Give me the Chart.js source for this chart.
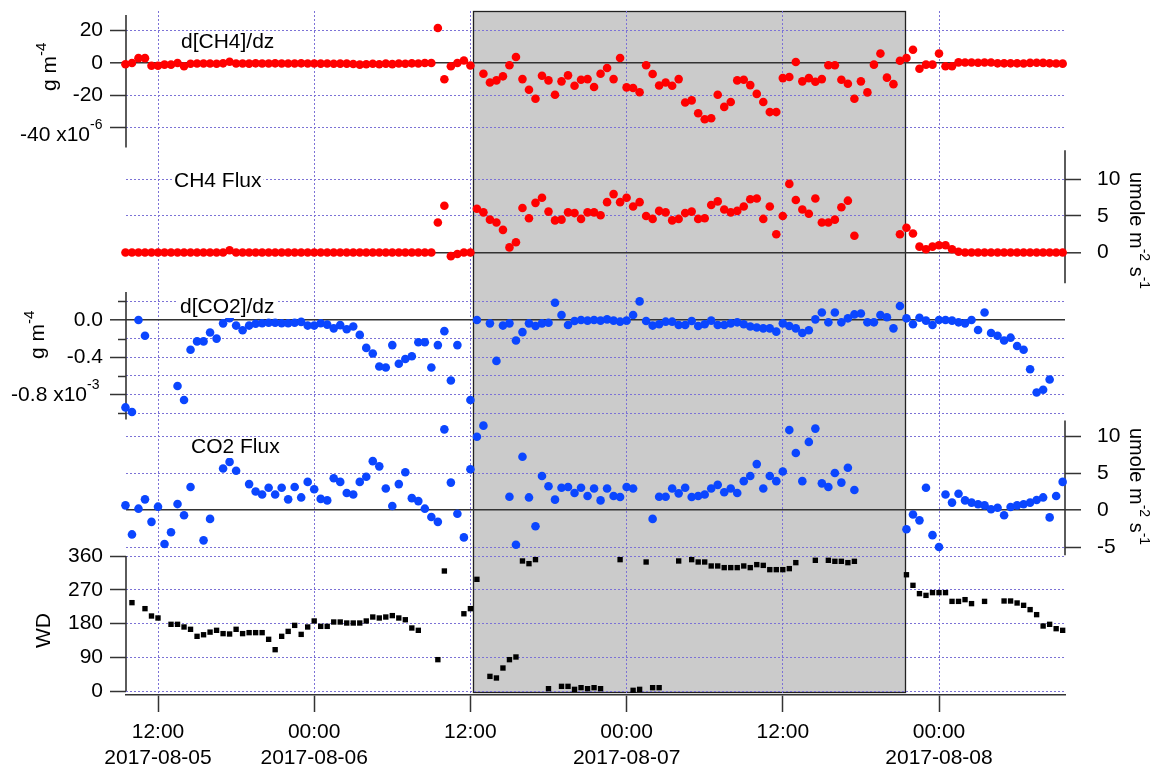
<!DOCTYPE html>
<html><head><meta charset="utf-8">
<script src="https://cdn.jsdelivr.net/npm/chart.js@4.4.1/dist/chart.umd.min.js"></script>
<style>html,body{margin:0;padding:0;background:#fff;overflow:hidden}canvas{display:block}</style>
</head><body>
<canvas id="c" width="1164" height="767"></canvas>
<script>
// ---------- sampling grid (hours since 2017-08-05 00:00, half-hourly) ----------
const timeStartHours = 9.5;
const timeStepHours = 0.5;

// ---------- series values ----------
// d[CH4]/dz  (x1e-6 g m-4)
const ch4Gradient = [
 -0.8,0,3,3,-1.7,-1.7,-1,-1,0,-2,
 -0.5,-0.3,-0.3,-0.3,-0.5,-0.2,0.8,-0.3,-0.3,-0.4,
 -0.2,-0.3,-0.3,-0.2,-0.3,-0.3,-0.3,-0.2,-0.3,-0.3,
 -0.4,-0.3,-0.5,-0.4,-0.4,-0.6,-1,-0.8,-0.5,-0.8,
 -0.4,-0.7,-0.3,-0.5,-0.2,-0.3,0,0,21.5,-10,
 -2,0,1.5,-1.5,null,-6.6,-12,-10.7,-8.2,-1.4,
 3.7,-9.9,-16.5,-22,-7.8,-10.7,-19.5,-11.3,-7.6,-14,
 -10.3,-9.9,-14.8,-6.6,-3.1,-9.9,3.1,-15,-15.4,-18,
 -1.4,-6.8,-13.8,-12,-14,-9.9,-24.3,-23,-30.9,-34.6,
 -34,-19.5,-27,-24,-10.7,-10.3,-13.6,-19,-24,-30.2,
 -30.2,-9.3,-8.6,0.6,-11.3,-9.3,-11.5,-9.9,-1.4,-1.4,
 -10.3,-12.8,-22,-11.3,-18.1,-1,5.8,-9,-13,1.4,
 3.1,8.2,-3.5,-1,-1,5.8,-2,-2,0.4,0.3,
 0.3,0.2,0.3,0.3,-0.2,-0.2,-0.2,-0.2,-0.3,0.1,
 0.2,0.1,-0.2,-0.3,-0.4
];
// CH4 Flux (umole m-2 s-1)
const ch4Flux = [
 0,0,0,0,0,0,0,0,0,0,
 0,0,0,0,0,0,0.3,0,0,0,
 0,0,0,0,0,0,0,0,0,0,
 0,0,0,0,0,0,0,0,0,0,
 0,0,0,0,0,0,0,0,4.1,6.4,
 -0.5,-0.2,0,0,6.0,5.5,4.5,4.1,3.1,0.7,
 1.4,6.1,4.7,6.8,7.5,5.6,4.4,4.5,5.5,5.4,
 4.6,5.5,5.5,5.1,6.9,8.0,6.9,7.5,6.3,6.9,
 5.0,4.6,5.7,5.5,4.4,4.6,5.4,5.6,4.6,4.7,
 6.5,7.0,5.9,5.5,5.7,6.3,7.3,7.4,4.6,6.3,
 2.5,5.0,9.4,7.2,5.9,5.3,7.4,4.1,4.1,4.5,
 6.2,7.1,2.3,null,null,null,null,null,null,2.5,
 3.4,2.6,0.8,0.45,0.8,1.0,1.0,0.45,0.1,0,
 0,0,0,0,0,0,0,0,0,0,
 0,0,0,0,0
];
// d[CO2]/dz (x1e-3 g m-4)
const co2Gradient = [
 -0.94,-0.99,0,-0.17,null,null,null,null,-0.71,-0.86,
 -0.32,-0.23,-0.23,-0.135,-0.2,-0.036,0.02,-0.06,-0.11,-0.06,
 -0.04,-0.035,-0.03,-0.03,-0.035,-0.035,-0.03,-0.02,-0.06,-0.06,
 -0.035,-0.05,-0.09,-0.055,-0.1,-0.07,-0.16,-0.3,-0.36,-0.5,
 -0.51,-0.27,-0.47,-0.42,-0.39,-0.24,-0.24,-0.51,-0.27,-0.12,
 -0.65,-0.27,null,-0.86,0,null,-0.036,-0.44,-0.06,-0.036,
 -0.22,-0.13,-0.036,-0.064,-0.036,-0.03,0.185,0.053,-0.053,-0.01,
 0,-0.007,0,-0.007,0.007,-0.007,-0.018,-0.007,0.053,0.2,
 -0.01,-0.06,-0.046,-0.018,-0.018,-0.053,-0.053,-0.01,-0.064,-0.046,
 -0.007,-0.053,-0.053,-0.036,-0.025,-0.046,-0.07,-0.08,-0.09,-0.09,
 -0.125,-0.036,-0.064,-0.09,-0.14,-0.11,0.007,0.08,-0.025,0.08,
 -0.025,0.018,0.06,0.07,-0.025,-0.025,0.053,0.03,-0.09,0.15,
 0.018,-0.046,0.025,-0.007,-0.053,0,0,-0.007,-0.025,-0.036,
 0,-0.107,0.08,-0.14,-0.17,-0.22,-0.19,-0.28,-0.32,-0.53,
 -0.78,-0.75,-0.64,null,null
];
// CO2 Flux (umole m-2 s-1)
const co2Flux = [
 0.63,-3.3,0.18,1.44,-1.6,0.45,-4.6,-3.0,0.8,-0.7,
 3.1,null,-4.1,-1.2,null,5.6,6.5,5.3,null,3.5,
 2.5,2.1,3.0,2.1,3.0,1.44,3.1,1.7,3.8,2.8,
 1.5,1.3,4.3,3.8,2.3,2.1,3.8,4.5,6.6,5.9,
 2.9,0.54,3.5,5.1,1.6,1.2,0.18,-0.95,-1.6,10.9,
 3.7,-0.5,-3.7,5.5,9.9,11.4,null,null,null,1.8,
 -4.7,7.2,1.7,-2.2,4.6,3.2,1.4,3.0,3.1,2.3,
 3.0,1.9,2.9,1.3,2.9,1.9,1.75,3.1,2.9,null,
 null,-1.2,1.8,1.8,2.9,2.25,3.0,1.75,1.9,2.1,
 2.9,3.4,2.4,2.9,2.3,3.9,4.6,6.2,2.9,4.6,
 3.9,5.2,10.8,7.7,3.9,9.2,11.0,3.6,3.1,5.0,
 3.7,5.7,2.7,null,null,null,null,null,null,null,
 -2.6,-0.6,-1.4,3.0,-3.4,-5.0,2.1,1.0,2.2,1.3,
 1.0,0.77,0.63,0.1,0.3,-0.7,0.4,0.63,0.77,1.0,
 1.35,1.7,-1.0,1.9,3.8
];
// WD (degrees)
const windDir = [
 null,235.6,null,219.6,200,194.7,null,177.8,177.8,170.7,
 164.5,145.8,150,157,161.8,153,152,164.5,153,155.6,
 155.6,155.6,137.8,110.2,145.8,159,175,151,170.7,186.7,
 172.4,172.4,184,184,181.3,181.3,181.3,186.7,197.3,194.7,
 197.3,201,194.7,190,168,161.8,null,null,83.6,320,
 null,null,206,219.6,297.8,null,39,34.7,61.3,83.6,
 90.7,346.7,339.6,350.3,null,6.2,null,12.4,12.4,4.4,
 8.9,6.2,8.9,6.2,null,null,350.3,null,1.8,4.4,
 344,8.9,8.9,null,null,346.7,null,350.3,344,344,
 333.4,333.4,329,329,329,333.4,329,337,335,323.6,
 323.6,323.6,326.3,342.3,null,null,348.5,null,348.5,345.8,
 345.8,342.3,345.8,null,null,null,null,null,null,null,
 310,281.8,259.6,255,262.3,262.3,262.3,239,239,243.6,
 233,null,239,null,null,240,240,234.7,228.5,217,
 203.6,173.3,177.8,166.2,161.8
];

// ---------- ticks ----------
const xTickHours = [12, 24, 36, 48, 60, 72];
const xTickLabels = [['12:00','2017-08-05'],['00:00','2017-08-06'],['12:00'],['00:00','2017-08-07'],['12:00'],['00:00','2017-08-08']];
const ch4GradTicks = [20, 0, -20, -40];
const ch4GradTickLabels = ['20', '0', '-20', ''];
const ch4FluxTicks = [10, 5, 0];
const ch4FluxTickLabels = ['10', '5', '0'];
const co2GradTicks = [0.2, 0, -0.2, -0.4, -0.6, -0.8, -1.0];
const co2GradTickLabels = ['', '0.0', '', '-0.4', '', '', ''];
const co2GradMinorTicks = [0.2, -0.2, -0.6, -1.0];
const co2FluxTicks = [10, 5, 0, -5];
const co2FluxTickLabels = ['10', '5', '0', '-5'];
const wdTicks = [360, 270, 180, 90, 0];
const wdTickLabels = ['360', '270', '180', '90', '0'];
const shadedPeriod = [36.2, 69.4];   // hours

// ---------- layout helpers ----------
const FONT = '"Liberation Sans", Arial, Helvetica, sans-serif';
const GRID = '#7c72d6';
const AREA = {left: 126, right: 1065, top: 11, bottom: 695};
function axisRange(v1, p1, v2, p2, pa, pb) {
  const k = (v2 - v1) / (p2 - p1);
  const a = v1 + (pa - p1) * k, b = v1 + (pb - p1) * k;
  return {min: Math.min(a, b), max: Math.max(a, b)};
}
const isVal = (a, b) => Math.abs(a - b) < 1e-9;

function yScale(pos, range, ticks, labels, zeroSolid, minor) {
  const isZero = c => zeroSolid && c.tick && isVal(c.tick.value, 0);
  const isMinor = c => minor && c.tick && minor.some(m => isVal(m, c.tick.value));
  return {
    type: 'linear', position: pos, bounds: 'data', min: range.min, max: range.max,
    afterBuildTicks: s => { s.ticks = ticks.map(v => ({value: v})); },
    afterFit: s => {
      s.width = 0; s.paddingTop = 0; s.paddingBottom = 0;
      s._computeLabelArea = () => null;   // do not clip labels to the (zero-width) axis box
    },
    ticks: {autoSkip: false, padding: pos === 'left' ? 7 : 16, color: '#000',
            font: {family: FONT, size: 21}, callback: (v, i) => labels[i]},
    grid: {
      color: c => isZero(c) ? '#333' : GRID,
      lineWidth: c => isZero(c) ? 1.6 : 1,
      tickLength: 16, tickWidth: 1.5, tickBorderDash: [],
      tickColor: c => isMinor(c) ? 'rgba(0,0,0,0)' : '#333'
    },
    border: {display: false, dash: c => isZero(c) ? [] : [2, 2]}
  };
}

const toPoints = arr => arr.map((v, i) => ({x: timeStartHours + i * timeStepHours, y: v}));

const axisSpans = [
  {id: 'y1', side: 'left', from: 29.5, to: -52},
  {id: 'y2', side: 'right', from: 14, to: -4.2},
  {id: 'y3', side: 'left', from: 0.3, to: -1.07},
  {id: 'y4', side: 'right', from: 12.1, to: -6.1},
  {id: 'y5', side: 'left', from: 360, to: 0}
];

function drawRich(ctx, x, y, angle, segs) {
  ctx.save();
  ctx.translate(x, y); ctx.rotate(angle);
  ctx.textAlign = 'left'; ctx.textBaseline = 'alphabetic'; ctx.fillStyle = '#000';
  let cx = 0;
  for (const [t, size, rise] of segs) {
    ctx.font = size + 'px ' + FONT;
    ctx.fillText(t, cx, -rise);
    cx += ctx.measureText(t).width;
  }
  ctx.restore();
}

const decorations = {
  id: 'decorations',
  beforeDraw(chart) {
    const {ctx, chartArea, scales} = chart;
    const x0 = scales.x.getPixelForValue(shadedPeriod[0]);
    const x1 = scales.x.getPixelForValue(shadedPeriod[1]);
    const yb = scales.y5.getPixelForValue(-3);
    ctx.save();
    ctx.fillStyle = '#cbcbcb';
    ctx.fillRect(x0, chartArea.top, x1 - x0, yb - chartArea.top);
    ctx.strokeStyle = '#222'; ctx.lineWidth = 1.3;
    ctx.strokeRect(Math.round(x0) + 0.5, chartArea.top + 0.5, Math.round(x1 - x0), Math.round(yb - chartArea.top));
    ctx.restore();
  },
  beforeDatasetsDraw(chart) {
    const {ctx, chartArea, scales} = chart;
    ctx.save();
    ctx.strokeStyle = '#333'; ctx.lineWidth = 1.6;
    for (const a of axisSpans) {
      const s = scales[a.id];
      const x = a.side === 'left' ? chartArea.left : chartArea.right;
      ctx.beginPath();
      ctx.moveTo(x, s.getPixelForValue(a.from));
      ctx.lineTo(x, s.getPixelForValue(a.to));
      ctx.stroke();
    }
    ctx.lineWidth = 1.5;
    for (const v of co2GradMinorTicks) {
      const y = Math.round(scales.y3.getPixelForValue(v)) + 0.5;
      ctx.beginPath(); ctx.moveTo(chartArea.left - 8, y); ctx.lineTo(chartArea.left, y); ctx.stroke();
    }
    ctx.restore();
  },
  afterDatasetsDraw(chart) {
    const {ctx, scales} = chart;
    ctx.save();
    const panelLabels = [
      {text: 'd[CH4]/dz', x: 181, y: 48},
      {text: 'CH4 Flux', x: 174, y: 187},
      {text: 'd[CO2]/dz', x: 180, y: 313},
      {text: 'CO2 Flux', x: 191, y: 453}
    ];
    ctx.font = '21px ' + FONT; ctx.textBaseline = 'alphabetic'; ctx.textAlign = 'left';
    for (const p of panelLabels) {
      const w = ctx.measureText(p.text).width;
      ctx.fillStyle = '#fff';
      ctx.fillRect(p.x - 2, p.y - 16, w + 4, 21);
      ctx.fillStyle = '#000';
      ctx.fillText(p.text, p.x, p.y);
    }
    const expLabels = [
      {scale: 'y1', value: -40, text: '-40 x10', sup: '-6', right: 90, dy: 12.5},
      {scale: 'y3', value: -0.8, text: '-0.8 x10', sup: '-3', right: 87, dy: 6.5}
    ];
    for (const e of expLabels) {
      const y = scales[e.scale].getPixelForValue(e.value) + e.dy;
      ctx.font = '21px ' + FONT; ctx.textAlign = 'right'; ctx.fillStyle = '#000';
      ctx.fillText(e.text, e.right, y);
      ctx.font = '14px ' + FONT; ctx.textAlign = 'left';
      ctx.fillText(e.sup, e.right, y - 11.5);
    }
    const up = -Math.PI / 2, down = Math.PI / 2;
    drawRich(ctx, 56, 91, up, [['g m', 21, 0], ['-4', 15, 10]]);
    drawRich(ctx, 44, 359, up, [['g m', 21, 0], ['-4', 15, 10]]);
    drawRich(ctx, 50, 648, up, [['WD', 21, 0]]);
    const unitSegs = [['umole m', 20, 0], ['-2', 14, 10], [' s', 20, 0], ['-1', 14, 10]];
    drawRich(ctx, 1130, 172, down, unitSegs);
    drawRich(ctx, 1130, 428, down, unitSegs);
    ctx.restore();
  }
};

const xr = axisRange(12, 158, 72, 939, AREA.left, AREA.right);
const T = AREA.top, B = AREA.bottom;
const r1 = axisRange(0, 63, -40, 128, T, B);
const r2 = axisRange(0, 252.5, 10, 179.5, T, B);
const r3 = axisRange(0, 320, -1.0, 413, T, B);
const r4 = axisRange(10, 436, -5, 547, T, B);
const r5 = axisRange(0, 691, 360, 556, T, B);

const RED = '#ff0000', BLUE = '#0b46ff';
const dot = (label, arr, yid, color, style, r) => ({
  label, data: toPoints(arr), yAxisID: yid, xAxisID: 'x',
  backgroundColor: color, borderColor: color, borderWidth: 0,
  pointStyle: style, pointRadius: r, pointHoverRadius: r, clip: false, showLine: false
});

new Chart(document.getElementById('c'), {
  type: 'scatter',
  data: {datasets: [
    dot('d[CH4]/dz', ch4Gradient, 'y1', RED, 'circle', 4.3),
    dot('CH4 Flux', ch4Flux, 'y2', RED, 'circle', 4.3),
    dot('d[CO2]/dz', co2Gradient, 'y3', BLUE, 'circle', 4.3),
    dot('CO2 Flux', co2Flux, 'y4', BLUE, 'circle', 4.3),
    dot('WD', windDir, 'y5', '#000', 'rect', 3.8)
  ]},
  options: {
    responsive: false, animation: false, events: [], devicePixelRatio: 1,
    layout: {padding: {left: AREA.left, right: 1164 - AREA.right, top: AREA.top, bottom: 0}},
    plugins: {legend: {display: false}, tooltip: {enabled: false}},
    scales: {
      x: {
        type: 'linear', position: 'bottom', bounds: 'data', min: xr.min, max: xr.max,
        afterBuildTicks: s => { s.ticks = xTickHours.map(v => ({value: v})); },
        afterFit: s => { s.height = 767 - AREA.bottom; s.paddingLeft = 0; s.paddingRight = 0; },
        ticks: {autoSkip: false, maxRotation: 0, padding: 8, color: '#000',
                font: {family: FONT, size: 21}, callback: (v, i) => xTickLabels[i]},
        grid: {color: GRID, lineWidth: 1, tickLength: 17, tickWidth: 1.5, tickColor: '#333', tickBorderDash: []},
        border: {display: true, color: '#333', width: 1.6, dash: [2, 2]}
      },
      y: {display: false},
      y1: yScale('left', r1, ch4GradTicks, ch4GradTickLabels, true, null),
      y2: yScale('right', r2, ch4FluxTicks, ch4FluxTickLabels, true, null),
      y3: yScale('left', r3, co2GradTicks, co2GradTickLabels, true, co2GradMinorTicks),
      y4: yScale('right', r4, co2FluxTicks, co2FluxTickLabels, true, null),
      y5: yScale('left', r5, wdTicks, wdTickLabels, false, null)
    }
  },
  plugins: [decorations]
});
</script>
</body></html>
